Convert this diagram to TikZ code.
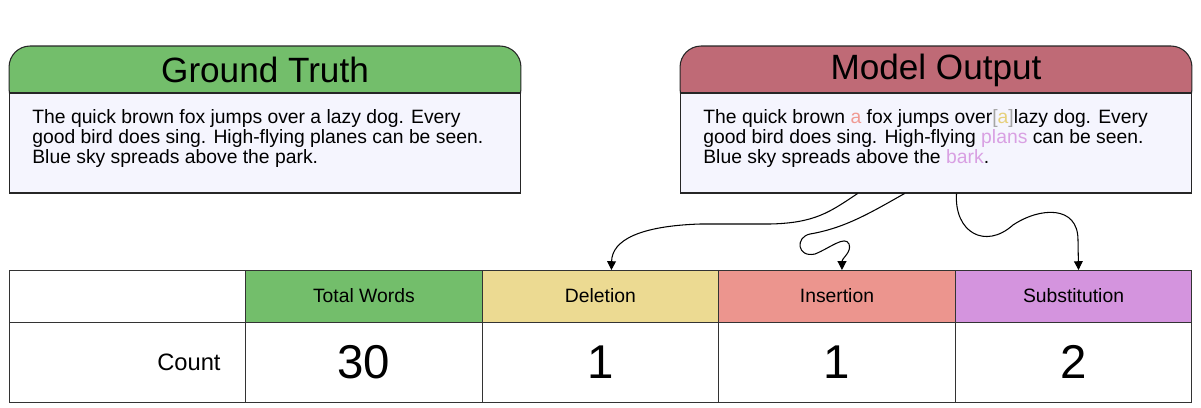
\documentclass[tikz,border=0pt]{standalone}
\usepackage{fontspec}
\setmainfont{Liberation Sans}
\usetikzlibrary{
    arrows.meta,
    calc,
    positioning
}
\definecolor{gtgreen}{HTML}{73BE6B}
\definecolor{mored}{HTML}{BF6A76}
\definecolor{bodyfill}{HTML}{F5F5FE}
\definecolor{delyellow}{HTML}{ECDA92}
\definecolor{inspink}{HTML}{EC958E}
\definecolor{subviolet}{HTML}{D494DE}
\definecolor{insword}{HTML}{F09A93}
\definecolor{delword}{HTML}{E6D07C}
\definecolor{subword}{HTML}{D9A0E3}

\begin{document}
\begin{tikzpicture}[x=0.02cm, y=-0.02cm,
    textbox/.style={draw=black!85, fill=bodyfill, line width=0.6pt,
        minimum width=10.24cm, minimum height=2cm, inner sep=0pt},
    header/.style={draw=black!85, line width=0.6pt, rounded corners=12pt,
        minimum width=10.24cm, minimum height=1.28cm, inner sep=0pt},
    title/.style={font=\fontsize{20}{22}\selectfont},
    boxtext/.style={anchor=north west, align=left, inner sep=0pt,
        font=\fontsize{11}{11.4}\selectfont},
    cell/.style={draw=black!80, line width=0.5pt, minimum width=4.732cm,
        minimum height=1.04cm, inner sep=0pt, outer sep=0pt,
        font=\fontsize{11}{13}\selectfont},
    numcell/.style={cell, minimum height=1.6cm, font=\fontsize{27}{30}\selectfont},
    flow/.style={->, >={Triangle[length=5pt, width=5pt]}, line width=0.6pt}
]
\useasboundingbox (0,0) rectangle (1201,407);

% ground truth box
\node[header, fill=gtgreen] (gthead) at (265,78) {};
\node[textbox] (gtbody) at (265,143) {};
\node[title] (gttitle) at (265,70) {Ground Truth};
\node[boxtext] (gttext) at (32,109) {The quick brown fox jumps over a lazy dog. Every\\
    good bird does sing. High-flying planes can be seen.\\
    Blue sky spreads above the park.};

% model output box
\node[header, fill=mored] (mohead) at (936,78) {};
\node[textbox] (mobody) at (936,143) {};
\node[title] (motitle) at (936,70) {Model Output};
\node[boxtext] (motext) at (703,109) {The quick brown \textcolor{insword}{a} fox jumps over\textcolor{black!35}{[}\textcolor{delword}{a}\textcolor{black!35}{]}lazy dog. Every\\
    good bird does sing. High-flying \textcolor{subword}{plans} can be seen.\\
    Blue sky spreads above the \textcolor{subword}{bark}.};

% table
\node[cell] (corner) at (127.3,296) {};
\node[cell, fill=gtgreen, right=0pt of corner] (total) {Total Words};
\node[cell, fill=delyellow, right=0pt of total] (del) {Deletion};
\node[cell, fill=inspink, right=0pt of del] (ins) {Insertion};
\node[cell, fill=subviolet, right=0pt of ins] (sub) {Substitution};
\node[numcell, below=0pt of corner, text width=3.732cm, inner xsep=0.5cm, align=right,
    font=\fontsize{13.5}{15}\selectfont] (count) {Count};
\node[numcell, below=0pt of total] (ntotal) {30};
\node[numcell, below=0pt of del] (ndel) {1};
\node[numcell, below=0pt of ins] (nins) {1};
\node[numcell, below=0pt of sub] (nsub) {2};

% connectors
\coordinate (delsrc) at ($(mobody.south west)+(178,0)$);
\coordinate (inssrc) at ($(mobody.south west)+(225,0)$);
\coordinate (subsrc) at ($(mobody.south west)+(277,0)$);
\coordinate (deldst) at ($(del.north)+(11,0)$);
\coordinate (insdst) at ($(ins.north)+(5,0)$);
\coordinate (subdst) at ($(sub.north)+(5,0)$);
\draw[flow] (delsrc) .. controls (830,212) and (815,223) .. (770,224)
    -- (700,224) .. controls (640,226) and (612,240) .. (deldst);
\draw[flow] (inssrc) .. controls (870,213) and (845,228) .. (810,234)
    .. controls (795,237) and (797,258) .. (815,254)
    .. controls (830,248) and (845,235) .. (849,244)
    .. controls (852,252) and (842,258) .. (insdst);
\draw[flow] (subsrc) .. controls (954,232) and (985,250) .. (1013,225)
    .. controls (1040,207) and (1078,205) .. (1078,240) -- (subdst);
\end{tikzpicture}
\end{document}
